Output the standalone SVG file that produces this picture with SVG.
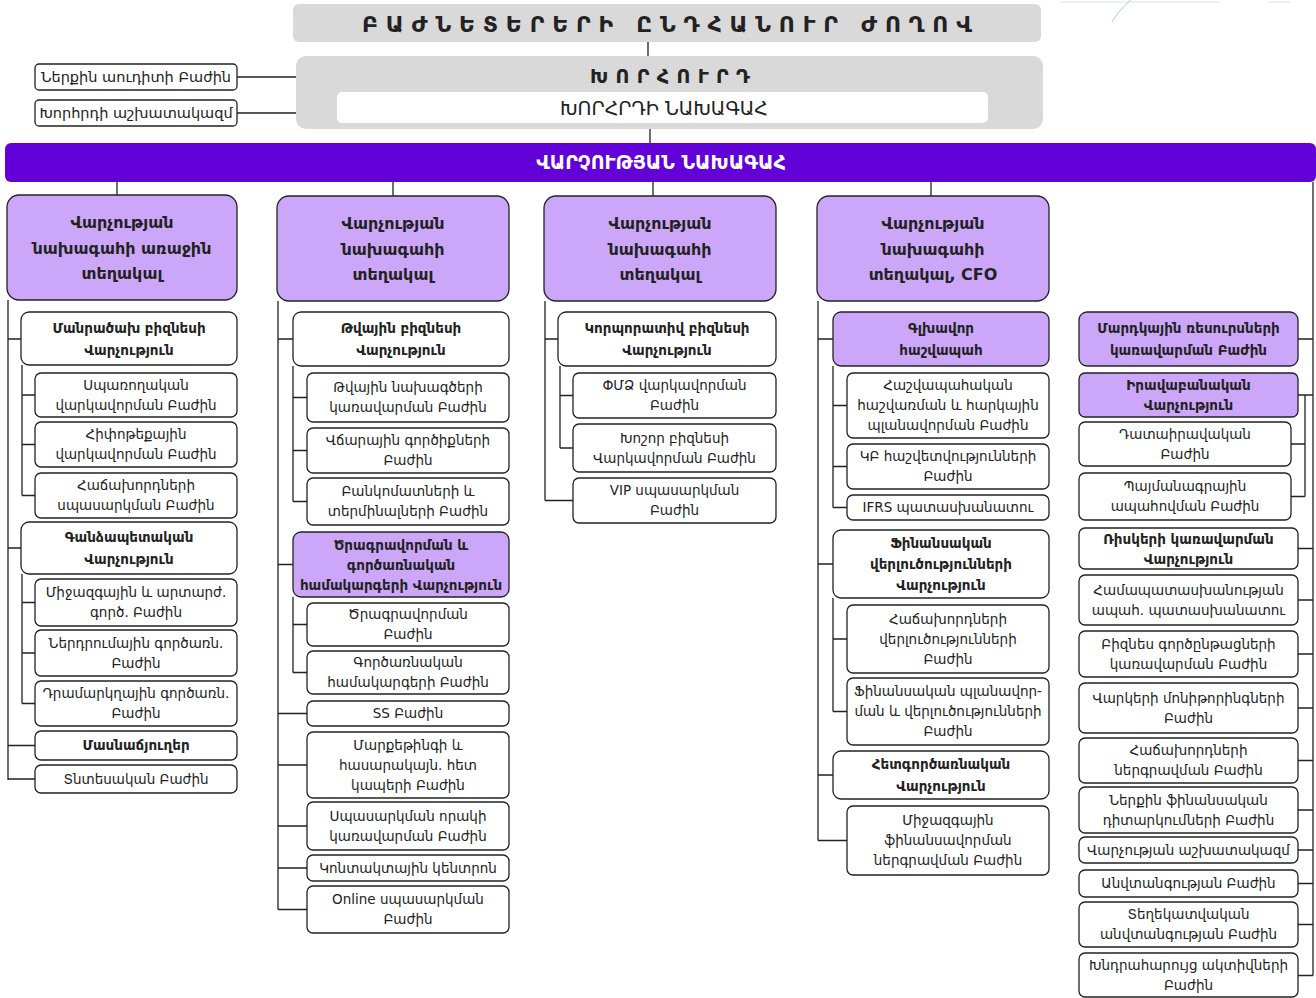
<svg xmlns="http://www.w3.org/2000/svg" width="1316" height="998" viewBox="0 0 1316 998">
<style>
.gray{fill:#d9d9d9}
.box{fill:#fff;stroke:#222;stroke-width:1.3}
.pur{fill:#cba6f9;stroke:#222;stroke-width:1.3}
.ln{stroke:#222;stroke-width:1.3;fill:none}
text{font-family:'DejaVu Sans','Noto Sans',sans-serif;fill:#222;text-anchor:middle}
.t{font-size:13.5px}
.tb{font-size:13.5px;font-weight:bold}
.th{font-size:16px;font-weight:bold}
</style>
<rect width="1316" height="998" fill="#fff"/>
<path d="M1112,22 C1118,12 1125,5 1133,-2" stroke="#8a9cbf" stroke-width="1" fill="none" opacity="0.6"/>
<path d="M1060,2 H1220 M1268,2 H1290" stroke="#c8cdd6" stroke-width="1" fill="none" opacity="0.6"/>

<g id="connectors">
<path class="ln" d="M648,42 V56 M650,129 V143 M237,77 H296 M237,113 H296"/>
<!-- col1 -->
<path class="ln" d="M117,182 V195 M8,300 V780 M8,339 H21 M8,548 H21 M8,745.5 H35 M8,779 H35 M22,365 V495.5 M22,395 H35 M22,444.5 H35 M22,495.5 H35 M22,574 V703.5 M22,602.5 H35 M22,653 H35 M22,703.5 H35"/>
<!-- col2 -->
<path class="ln" d="M393,182 V196 M278,301 V909.5 M278,339 H293 M278,564.5 H293 M278,713.5 H307 M278,765 H307 M278,826 H307 M278,868 H307 M278,909.5 H307 M293,366 V501.5 M293,397.5 H307 M293,450.5 H307 M293,501.5 H307 M293,597 V672.5 M293,624.5 H307 M293,672.5 H307"/>
<!-- col3 -->
<path class="ln" d="M653,182 V196 M545,301 V500.5 M545,339 H558 M545,500.5 H573 M560,366 V448 M560,395.5 H573 M560,448 H573"/>
<!-- col4 -->
<path class="ln" d="M931,182 V196 M818,301 V840.5 M818,339 H833 M818,564 H833 M818,775 H833 M818,840.5 H847 M833,366 V507.5 M833,405.5 H847 M833,466.5 H847 M833,507.5 H847 M833,598 V711.5 M833,639 H847 M833,711.5 H847"/>
<!-- col5 -->
<path class="ln" d="M1313,182 V975.5 M1298,339 H1313 M1298,395 H1313 M1298,548.5 H1313 M1298,600 H1313 M1298,654 H1313 M1298,708 H1313 M1298,760.5 H1313 M1298,810 H1313 M1298,850 H1313 M1298,883.5 H1313 M1298,924.5 H1313 M1298,975.5 H1313 M1305,395 V496.5 M1291,444 H1305 M1291,496.5 H1305"/>
</g>

<g id="shareholders">
<rect class="gray" x="293" y="4" width="748" height="38" rx="6"/>
<text x="667" y="31.5" style="font-size:22px;font-weight:bold" textLength="610" lengthAdjust="spacing">ԲԱԺՆԵՏԵՐԵՐԻ ԸՆԴՀԱՆՈՒՐ ԺՈՂՈՎ</text>
</g>
<g id="board">
<rect class="gray" x="296" y="56" width="747" height="73" rx="10"/>
<text x="670" y="83" style="font-size:19px;font-weight:bold" textLength="160" lengthAdjust="spacing">ԽՈՐՀՈՒՐԴ</text>
</g>
<g id="board-chair">
<rect x="337" y="92" width="651" height="31" rx="5" fill="#fff"/>
<text x="664" y="114.5" style="font-size:19px">ԽՈՐՀՐԴԻ ՆԱԽԱԳԱՀ</text>
</g>
<g id="internal-audit">
<rect class="box" x="35" y="64" width="202" height="26" rx="4"/>
<text x="136" y="82" style="font-size:14.5px">Ներքին աուդիտի Բաժին</text>
</g>
<g id="board-staff">
<rect class="box" x="35" y="100" width="202" height="26" rx="4"/>
<text x="136" y="118" style="font-size:14.5px">Խորհրդի աշխատակազմ</text>
</g>
<g id="ceo">
<rect x="5" y="143" width="1311" height="39" rx="6" fill="#6200d8"/>
<text x="661" y="169" style="font-size:19px;font-weight:bold;fill:#fff">ՎԱՐՉՈՒԹՅԱՆ ՆԱԽԱԳԱՀ</text>
</g>

<!-- column 1 -->
<g id="first-deputy">
<rect class="pur" x="7" y="195" width="230" height="105" rx="12"/>
<text class="th" x="122" y="227.5">Վարչության</text>
<text class="th" x="122" y="253.5">նախագահի առաջին</text>
<text class="th" x="122" y="278.5">տեղակալ</text>
</g>
<g id="retail">
<rect class="box" x="21" y="312" width="216" height="53" rx="8"/>
<text class="tb" x="129" y="332.5">Մանրածախ բիզնեսի</text>
<text class="tb" x="129" y="354.5">Վարչություն</text>
</g>
<g id="consumer-loans">
<rect class="box" x="35" y="373" width="202" height="44" rx="6"/>
<text class="t" x="136" y="389.8">Սպառողական</text>
<text class="t" x="136" y="409.8">վարկավորման Բաժին</text>
</g>
<g id="mortgage">
<rect class="box" x="35" y="422" width="202" height="45" rx="6"/>
<text class="t" x="136" y="439.4">Հիփոթեքային</text>
<text class="t" x="136" y="459.4">վարկավորման Բաժին</text>
</g>
<g id="customer-service">
<rect class="box" x="35" y="473" width="202" height="45" rx="6"/>
<text class="t" x="136" y="490.4">Հաճախորդների</text>
<text class="t" x="136" y="510.4">սպասարկման Բաժին</text>
</g>
<g id="treasury">
<rect class="box" x="21" y="522" width="216" height="52" rx="8"/>
<text class="tb" x="129" y="542">Գանձապետական</text>
<text class="tb" x="129" y="564">Վարչություն</text>
</g>
<g id="intl-fx">
<rect class="box" x="35" y="579" width="202" height="47" rx="6"/>
<text class="t" x="136" y="597.4">Միջազգային և արտարժ.</text>
<text class="t" x="136" y="617.4">գործ. Բաժին</text>
</g>
<g id="investment-ops">
<rect class="box" x="35" y="630" width="202" height="46" rx="6"/>
<text class="t" x="136" y="647.8">Ներդրումային գործառն.</text>
<text class="t" x="136" y="667.8">Բաժին</text>
</g>
<g id="cash-ops">
<rect class="box" x="35" y="681" width="202" height="45" rx="6"/>
<text class="t" x="136" y="698.4">Դրամարկղային գործառն.</text>
<text class="t" x="136" y="718.4">Բաժին</text>
</g>
<g id="branches">
<rect class="box" x="35" y="731" width="202" height="29" rx="6"/>
<text class="tb" x="136" y="750.3">Մասնաճյուղեր</text>
</g>
<g id="economic">
<rect class="box" x="35" y="765" width="202" height="28" rx="6"/>
<text class="t" x="136" y="783.8">Տնտեսական Բաժին</text>
</g>

<!-- column 2 -->
<g id="deputy-2">
<rect class="pur" x="277" y="196" width="232" height="105" rx="12"/>
<text class="th" x="393" y="228.5">Վարչության</text>
<text class="th" x="393" y="254.5">նախագահի</text>
<text class="th" x="393" y="279.5">տեղակալ</text>
</g>
<g id="digital">
<rect class="box" x="293" y="312" width="216" height="54" rx="8"/>
<text class="tb" x="401" y="333">Թվային բիզնեսի</text>
<text class="tb" x="401" y="355">Վարչություն</text>
</g>
<g id="digital-projects">
<rect class="box" x="307" y="373" width="202" height="49" rx="6"/>
<text class="t" x="408" y="392.4">Թվային նախագծերի</text>
<text class="t" x="408" y="412.4">կառավարման Բաժին</text>
</g>
<g id="payment-tools">
<rect class="box" x="307" y="428" width="202" height="45" rx="6"/>
<text class="t" x="408" y="445.4">Վճարային գործիքների</text>
<text class="t" x="408" y="465.4">Բաժին</text>
</g>
<g id="atm">
<rect class="box" x="307" y="478" width="202" height="47" rx="6"/>
<text class="t" x="408" y="496.4">Բանկոմատների և</text>
<text class="t" x="408" y="516.4">տերմինալների Բաժին</text>
</g>
<g id="it-systems">
<rect class="pur" x="293" y="532" width="216" height="65" rx="8"/>
<text class="tb" x="401" y="549.5">Ծրագրավորման և</text>
<text class="tb" x="401" y="569.5">գործառնական</text>
<text class="tb" x="401" y="589.5">համակարգերի Վարչություն</text>
</g>
<g id="programming">
<rect class="box" x="307" y="603" width="202" height="43" rx="6"/>
<text class="t" x="408" y="619.4">Ծրագրավորման</text>
<text class="t" x="408" y="639.4">Բաժին</text>
</g>
<g id="op-systems">
<rect class="box" x="307" y="651" width="202" height="43" rx="6"/>
<text class="t" x="408" y="667.4">Գործառնական</text>
<text class="t" x="408" y="687.4">համակարգերի Բաժին</text>
</g>
<g id="ss">
<rect class="box" x="307" y="701" width="202" height="25" rx="6"/>
<text class="t" x="408" y="718.3">SS Բաժին</text>
</g>
<g id="marketing">
<rect class="box" x="307" y="732" width="202" height="66" rx="6"/>
<text class="t" x="408" y="749.8">Մարքեթինգի և</text>
<text class="t" x="408" y="769.8">հասարակայն. հետ</text>
<text class="t" x="408" y="789.8">կապերի Բաժին</text>
</g>
<g id="service-quality">
<rect class="box" x="307" y="802" width="202" height="48" rx="6"/>
<text class="t" x="408" y="820.8">Սպասարկման որակի</text>
<text class="t" x="408" y="840.8">կառավարման Բաժին</text>
</g>
<g id="contact-center">
<rect class="box" x="307" y="855" width="202" height="26" rx="6"/>
<text class="t" x="408" y="872.8">Կոնտակտային կենտրոն</text>
</g>
<g id="online-service">
<rect class="box" x="307" y="886" width="202" height="47" rx="6"/>
<text class="t" x="408" y="904.4">Online սպասարկման</text>
<text class="t" x="408" y="924.4">Բաժին</text>
</g>

<!-- column 3 -->
<g id="deputy-3">
<rect class="pur" x="544" y="196" width="232" height="105" rx="12"/>
<text class="th" x="660" y="228.5">Վարչության</text>
<text class="th" x="660" y="254.5">նախագահի</text>
<text class="th" x="660" y="279.5">տեղակալ</text>
</g>
<g id="corporate">
<rect class="box" x="558" y="312" width="218" height="54" rx="8"/>
<text class="tb" x="667" y="333">Կորպորատիվ բիզնեսի</text>
<text class="tb" x="667" y="355">Վարչություն</text>
</g>
<g id="sme">
<rect class="box" x="573" y="373" width="203" height="45" rx="6"/>
<text class="t" x="674.5" y="390.4">ՓՄՁ վարկավորման</text>
<text class="t" x="674.5" y="410.4">Բաժին</text>
</g>
<g id="large-business">
<rect class="box" x="573" y="424" width="203" height="48" rx="6"/>
<text class="t" x="674.5" y="442.8">Խոշոր բիզնեսի</text>
<text class="t" x="674.5" y="462.8">Վարկավորման Բաժին</text>
</g>
<g id="vip">
<rect class="box" x="573" y="478" width="203" height="45" rx="6"/>
<text class="t" x="674.5" y="495.4">VIP սպասարկման</text>
<text class="t" x="674.5" y="515.4">Բաժին</text>
</g>

<!-- column 4 -->
<g id="cfo">
<rect class="pur" x="817" y="196" width="232" height="105" rx="12"/>
<text class="th" x="933" y="228.5">Վարչության</text>
<text class="th" x="933" y="254.5">նախագահի</text>
<text class="th" x="933" y="279.5">տեղակալ, CFO</text>
</g>
<g id="chief-accountant">
<rect class="pur" x="833" y="312" width="216" height="54" rx="8"/>
<text class="tb" x="941" y="333">Գլխավոր</text>
<text class="tb" x="941" y="355">հաշվապահ</text>
</g>
<g id="accounting">
<rect class="box" x="847" y="373" width="202" height="65" rx="6"/>
<text class="t" x="948" y="390.3">Հաշվապահական</text>
<text class="t" x="948" y="410.3">հաշվառման և հարկային</text>
<text class="t" x="948" y="430.3">պլանավորման Բաժին</text>
</g>
<g id="cb-reports">
<rect class="box" x="847" y="444" width="202" height="45" rx="6"/>
<text class="t" x="948" y="461.4">ԿԲ հաշվետվությունների</text>
<text class="t" x="948" y="481.4">Բաժին</text>
</g>
<g id="ifrs">
<rect class="box" x="847" y="495" width="202" height="25" rx="6"/>
<text class="t" x="948" y="512.3">IFRS պատասխանատու</text>
</g>
<g id="fin-analysis">
<rect class="box" x="833" y="530" width="216" height="68" rx="8"/>
<text class="tb" x="941" y="548">Ֆինանսական</text>
<text class="tb" x="941" y="569">վերլուծությունների</text>
<text class="tb" x="941" y="590">Վարչություն</text>
</g>
<g id="customer-analysis">
<rect class="box" x="847" y="605" width="202" height="68" rx="6"/>
<text class="t" x="948" y="623.8">Հաճախորդների</text>
<text class="t" x="948" y="643.8">վերլուծությունների</text>
<text class="t" x="948" y="663.8">Բաժին</text>
</g>
<g id="fin-planning">
<rect class="box" x="847" y="678" width="202" height="67" rx="6"/>
<text class="t" x="948" y="696.4">Ֆինանսական պլանավոր-</text>
<text class="t" x="948" y="716.4">ման և վերլուծությունների</text>
<text class="t" x="948" y="736.4">Բաժին</text>
</g>
<g id="back-office">
<rect class="box" x="833" y="751" width="216" height="48" rx="8"/>
<text class="tb" x="941" y="769">Հետգործառնական</text>
<text class="tb" x="941" y="791">Վարչություն</text>
</g>
<g id="intl-funding">
<rect class="box" x="847" y="806" width="202" height="69" rx="6"/>
<text class="t" x="948" y="825.4">Միջազգային</text>
<text class="t" x="948" y="845.4">ֆինանսավորման</text>
<text class="t" x="948" y="865.4">ներգրավման Բաժին</text>
</g>

<!-- column 5 -->
<g id="hr">
<rect class="pur" x="1079" y="312" width="219" height="54" rx="8"/>
<text class="tb" x="1188.5" y="333">Մարդկային ռեսուրսների</text>
<text class="tb" x="1188.5" y="355">կառավարման Բաժին</text>
</g>
<g id="legal">
<rect class="pur" x="1079" y="373" width="219" height="44" rx="6"/>
<text class="tb" x="1188.5" y="390">Իրավաբանական</text>
<text class="tb" x="1188.5" y="410">Վարչություն</text>
</g>
<g id="litigation">
<rect class="box" x="1079" y="422" width="212" height="44" rx="6"/>
<text class="t" x="1185" y="438.8">Դատաիրավական</text>
<text class="t" x="1185" y="458.8">Բաժին</text>
</g>
<g id="contracts">
<rect class="box" x="1079" y="473" width="212" height="47" rx="6"/>
<text class="t" x="1185" y="491.4">Պայմանագրային</text>
<text class="t" x="1185" y="511.4">ապահովման Բաժին</text>
</g>
<g id="risk">
<rect class="box" x="1079" y="528" width="219" height="41" rx="6"/>
<text class="tb" x="1188.5" y="543.5">Ռիսկերի կառավարման</text>
<text class="tb" x="1188.5" y="563.5">Վարչություն</text>
</g>
<g id="compliance">
<rect class="box" x="1079" y="575" width="219" height="50" rx="6"/>
<text class="t" x="1188.5" y="594.8">Համապատասխանության</text>
<text class="t" x="1188.5" y="614.8">ապահ. պատասխանատու</text>
</g>
<g id="business-process">
<rect class="box" x="1079" y="631" width="219" height="46" rx="6"/>
<text class="t" x="1188.5" y="648.8">Բիզնես գործընթացների</text>
<text class="t" x="1188.5" y="668.8">կառավարման Բաժին</text>
</g>
<g id="loan-monitoring">
<rect class="box" x="1079" y="683" width="219" height="50" rx="6"/>
<text class="t" x="1188.5" y="702.8">Վարկերի մոնիթորինգների</text>
<text class="t" x="1188.5" y="722.8">Բաժին</text>
</g>
<g id="customer-acquisition">
<rect class="box" x="1079" y="738" width="219" height="45" rx="6"/>
<text class="t" x="1188.5" y="755.4">Հաճախորդների</text>
<text class="t" x="1188.5" y="775.4">ներգրավման Բաժին</text>
</g>
<g id="internal-fin-review">
<rect class="box" x="1079" y="787" width="219" height="46" rx="6"/>
<text class="t" x="1188.5" y="804.8">Ներքին ֆինանսական</text>
<text class="t" x="1188.5" y="824.8">դիտարկումների Բաժին</text>
</g>
<g id="board-office">
<rect class="box" x="1079" y="837" width="219" height="26" rx="6"/>
<text class="t" x="1188.5" y="854.8">Վարչության աշխատակազմ</text>
</g>
<g id="security">
<rect class="box" x="1079" y="870" width="219" height="27" rx="6"/>
<text class="t" x="1188.5" y="888.3">Անվտանգության Բաժին</text>
</g>
<g id="info-security">
<rect class="box" x="1079" y="902" width="219" height="45" rx="6"/>
<text class="t" x="1188.5" y="919.4">Տեղեկատվական</text>
<text class="t" x="1188.5" y="939.4">անվտանգության Բաժին</text>
</g>
<g id="problem-assets">
<rect class="box" x="1079" y="953" width="219" height="44" rx="6"/>
<text class="t" x="1188.5" y="970.4">Խնդրահարույց ակտիվների</text>
<text class="t" x="1188.5" y="990.4">Բաժին</text>
</g>
</svg>
